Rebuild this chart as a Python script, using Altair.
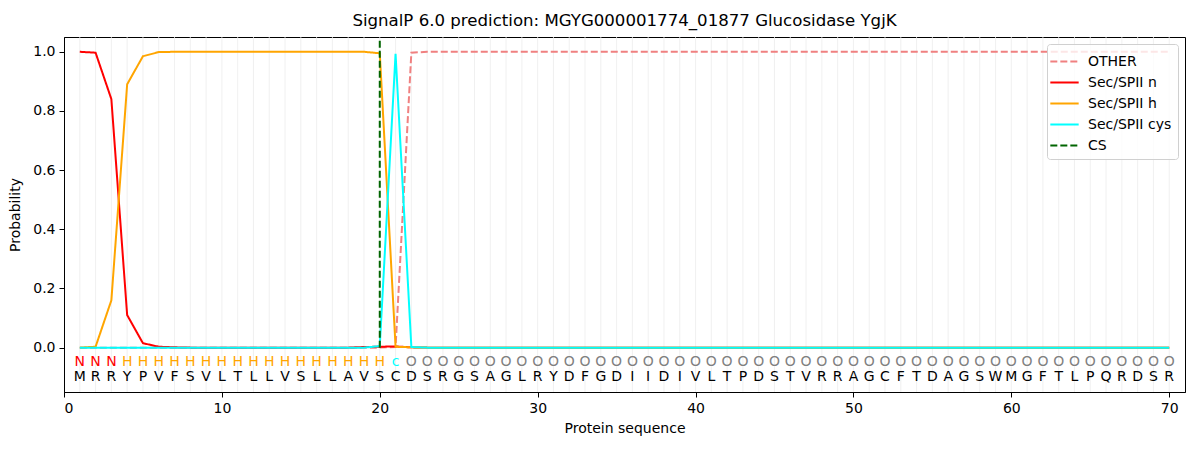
import altair as alt
import pandas as pd

sequence = list("MRRYPVFSVLTLLVSLLAVSCDSRGSAGLRYDFGDIIDIVLTPDSTVRRAGCFTDAGSWMGFTLPQRDSR")
labels = list("NNN" + "H" * 17 + "c" + "O" * 49)
positions = list(range(1, 71))

n = len(positions)
prob_n = [1.0, 0.997, 0.84, 0.11, 0.015, 0.003, 0.001] + [0.0] * 11 + [0.002, 0.003, 0.004, 0.001] + [0.0] * 48
prob_h = [0.0, 0.003, 0.16, 0.89, 0.985, 0.999] + [1.0] * 13 + [0.995, 0.003, 0.001] + [0.0] * 48
prob_cys = [0.0] * 19 + [0.005, 0.993, 0.002] + [0.0] * 48
prob_other = [0.0] * 20 + [0.002, 0.997] + [1.0] * 48

cs_x = [20, 20]
cs_y = [0.0, 1.04]

series_names = ["OTHER", "Sec/SPII n", "Sec/SPII h", "Sec/SPII cys", "CS"]
series_colors = ["#f08080", "#ff0000", "#ffa500", "#00ffff", "#006400"]
series_dash = [[7, 3], [1, 0], [1, 0], [1, 0], [7, 3]]

label_color_keys = ["N", "H", "c", "O"]
label_color_vals = ["#ff0000", "#ffa500", "#00ffff", "#808080"]

rows = []
for name, vals in [("OTHER", prob_other), ("Sec/SPII n", prob_n),
                   ("Sec/SPII h", prob_h), ("Sec/SPII cys", prob_cys)]:
    for p, v in zip(positions, vals):
        rows.append({"pos": p, "prob": v, "series": name})
for xx, yy in zip(cs_x, cs_y):
    rows.append({"pos": xx, "prob": yy, "series": "CS"})
lines_df = pd.DataFrame(rows)

letters_df = pd.DataFrame({
    "pos": positions,
    "aa": sequence,
    "lab": labels,
    "aa_y": [-0.1] * n,
    "lab_y": [-0.05] * n,
})

xscale = alt.Scale(domain=[0, 71], nice=False, zero=False)
yscale = alt.Scale(domain=[-0.15, 1.05], nice=False, zero=False)

xaxis = alt.Axis(values=[0, 10, 20, 30, 40, 50, 60, 70], grid=False, title="Protein sequence",
                 tickSize=5, labelPadding=4, titlePadding=6, format="d")
yaxis = alt.Axis(values=[0, 0.2, 0.4, 0.6, 0.8, 1.0], grid=False, title="Probability",
                 tickSize=5, labelPadding=4, titlePadding=10, format=".1f")

grid = alt.Chart(pd.DataFrame({"pos": positions})).mark_rule(
    color="#ececec", strokeWidth=1, opacity=0.8
).encode(x=alt.X("pos:Q", scale=xscale, axis=xaxis))

color_enc = alt.Color("series:N", scale=alt.Scale(domain=series_names, range=series_colors),
                      title=None,
                      legend=alt.Legend(orient="top-right", symbolType="M-1.35,0L1.35,0",
                                        symbolStrokeWidth=2, symbolSize=441,
                                        symbolFillColor="transparent",
                                        labelFontSize=14, labelFont="DejaVu Sans",
                                        strokeColor="#d0d0d0", fillColor="rgba(255,255,255,0.8)",
                                        padding=6, cornerRadius=3, rowPadding=2,
                                        labelOffset=12, offset=7))
dash_enc = alt.StrokeDash("series:N", scale=alt.Scale(domain=series_names, range=series_dash),
                          title=None, legend=None)

layers = [grid]
for name in ["OTHER", "Sec/SPII n", "Sec/SPII h", "Sec/SPII cys", "CS"]:
    layers.append(
        alt.Chart(lines_df).transform_filter(alt.datum.series == name).mark_line(strokeWidth=2).encode(
            x=alt.X("pos:Q", scale=xscale, axis=xaxis),
            y=alt.Y("prob:Q", scale=yscale, axis=yaxis),
            color=color_enc,
            strokeDash=dash_enc,
        )
    )

aa_text = alt.Chart(letters_df).mark_text(fontSize=14, font="DejaVu Sans", color="black").encode(
    x=alt.X("pos:Q", scale=xscale),
    y=alt.Y("aa_y:Q", scale=yscale),
    text="aa:N",
)
lab_text = alt.Chart(letters_df).mark_text(fontSize=14, font="DejaVu Sans").encode(
    x=alt.X("pos:Q", scale=xscale),
    y=alt.Y("lab_y:Q", scale=yscale),
    text="lab:N",
    fill=alt.Fill("lab:N", scale=alt.Scale(domain=label_color_keys, range=label_color_vals), legend=None),
)
layers += [lab_text, aa_text]

chart = alt.layer(*layers).resolve_scale(fill="independent").properties(
    width=1121, height=355,
    autosize=alt.AutoSizeParams(type="none"),
    padding={"left": 56, "top": 29, "right": 7, "bottom": 50},
    title=alt.Title("SignalP 6.0 prediction: MGYG000001774_01877 Glucosidase YgjK",
                    fontSize=16.6, font="DejaVu Sans", fontWeight="normal", offset=6),
).configure_view(stroke="black", strokeWidth=1).configure_axis(
    labelFont="DejaVu Sans", titleFont="DejaVu Sans", labelFontSize=14, titleFontSize=14,
    titleFontWeight="normal", domainColor="black", tickColor="black", labelColor="black",
    titleColor="black",
)

chart.save("out.html", embed_options={"renderer": "svg", "actions": False})
